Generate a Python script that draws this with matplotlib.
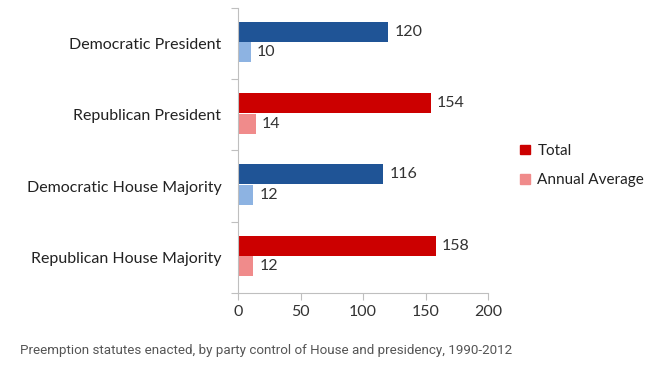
import matplotlib
matplotlib.use("Agg")
import matplotlib.pyplot as plt
import numpy as np
from matplotlib.patches import Patch

categories = ["Democratic President", "Republican President",
              "Democratic House Majority", "Republican House Majority"]
totals = [120, 154, 116, 158]
averages = [10, 14, 12, 12]
party = ["D", "R", "D", "R"]

total_colors = {"D": "#1f5496", "R": "#cc0000"}
avg_colors = {"D": "#8db3e2", "R": "#f08b8b"}

plt.rcParams['font.family'] = ['Lato', 'DejaVu Sans']

fig = plt.figure(figsize=(6.53, 3.76), dpi=100)
ax = fig.add_axes([0.3645, 0.221, 0.3830, 0.758])

y = np.arange(len(categories))
h = 0.28
ax.barh(y - 0.163, totals, height=h,
        color=[total_colors[p] for p in party])
ax.barh(y + 0.125, averages, height=h,
        color=[avg_colors[p] for p in party])

for i in range(len(categories)):
    ax.text(totals[i] + 5, y[i] - 0.163, str(totals[i]), va="center",
            ha="left", fontsize=11.5, color="#333333")
    ax.text(averages[i] + 5, y[i] + 0.125, str(averages[i]), va="center",
            ha="left", fontsize=11.5, color="#333333")

ax.set_xlim(0, 200)
ax.set_ylim(3.5, -0.5)
ax.set_xticks([0, 50, 100, 150, 200])
ax.tick_params(axis="x", length=5, color="#bfbfbf", labelsize=11.5,
               labelcolor="#333333", pad=4)

# category labels between boundary ticks
ax.set_yticks(np.arange(-0.5, 4, 1))
ax.set_yticklabels([])
ax.set_yticks(y, minor=True)
ax.set_yticklabels(categories, minor=True)
ax.tick_params(axis="y", which="major", length=5, color="#bfbfbf")
ax.tick_params(axis="y", which="minor", length=0, labelsize=11.5,
               labelcolor="#222222", pad=12)

for s in ["top", "right"]:
    ax.spines[s].set_visible(False)
for s in ["left", "bottom"]:
    ax.spines[s].set_color("#bfbfbf")

handles = [Patch(color="#cc0000", label="Total"),
           Patch(color="#f08b8b", label="Annual Average")]
fig.legend(handles=handles, loc="upper left", bbox_to_anchor=(0.776, 0.654),
           frameon=False, fontsize=11, handlelength=0.6, handleheight=0.6,
           handletextpad=0.5, labelspacing=1.0, labelcolor="#222222")

fig.text(0.031, 0.058,
         "Preemption statutes enacted, by party control of House and presidency, 1990-2012",
         fontsize=9.6, color="#555555", family=["Roboto", "DejaVu Sans"])

fig.savefig("out.png", dpi=100)
